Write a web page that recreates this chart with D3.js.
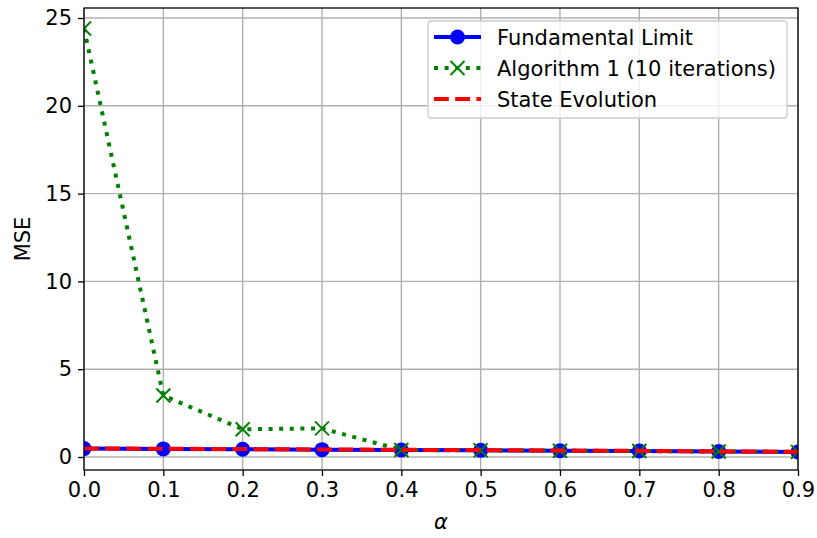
<!DOCTYPE html>
<html><head><meta charset="utf-8">
<script src="https://cdn.jsdelivr.net/npm/d3@7"></script>
<style>body{margin:0;background:#fff}svg{font-family:"DejaVu Sans",sans-serif}</style>
</head><body><svg id="c" width="817" height="538"></svg>
<script>
const alphas = [0.0,0.1,0.2,0.3,0.4,0.5,0.6,0.7,0.8,0.9];
const fundamentalLimit = [0.48,0.46,0.44,0.42,0.40,0.38,0.36,0.34,0.31,0.29];
const algorithm1 = [24.4,3.5,1.58,1.63,0.40,0.38,0.36,0.34,0.31,0.29];
const stateEvolution = [0.49,0.47,0.45,0.43,0.41,0.39,0.37,0.35,0.32,0.30];
const xTicks = [0,0.1,0.2,0.3,0.4,0.5,0.6,0.7,0.8,0.9];
const yTicks = [0,5,10,15,20,25];
const legendLabels = ["Fundamental Limit","Algorithm 1 (10 iterations)","State Evolution"];

const FS = 21;
const LW = 4;
const svg = d3.select("#c");
const L=84,R=798,T=8,B=470;
const x = d3.scaleLinear().domain([0,0.9]).range([L,R]);
const y = d3.scaleLinear().domain([-0.74,25.57]).range([B,T]);

const g = svg.append("g");
g.selectAll(".gx").data(xTicks).enter().append("line")
 .attr("x1",d=>x(d)).attr("x2",d=>x(d)).attr("y1",T).attr("y2",B)
 .attr("stroke","#b0b0b0").attr("stroke-width",1.4);
g.selectAll(".gy").data(yTicks).enter().append("line")
 .attr("x1",L).attr("x2",R).attr("y1",d=>y(d)).attr("y2",d=>y(d))
 .attr("stroke","#b0b0b0").attr("stroke-width",1.4);

svg.append("clipPath").attr("id","pc").append("rect")
 .attr("x",L).attr("y",T).attr("width",R-L).attr("height",B-T);
const plot = svg.append("g").attr("clip-path","url(#pc)");

const line = d3.line().x((d,i)=>x(alphas[i])).y(d=>y(d));
const DOT = `${LW},${LW*1.65}`;
const DASH = `${LW*3.7},${LW*1.6}`;
plot.append("path").datum(fundamentalLimit).attr("d",line).attr("fill","none")
 .attr("stroke","#0000ff").attr("stroke-width",LW);
plot.selectAll(".fm").data(fundamentalLimit).enter().append("circle")
 .attr("cx",(d,i)=>x(alphas[i])).attr("cy",d=>y(d)).attr("r",7.5).attr("fill","#0000ff");
plot.append("path").datum(algorithm1).attr("d",line).attr("fill","none")
 .attr("stroke","#008000").attr("stroke-width",LW).attr("stroke-dasharray",DOT);
const xs=7;
function xMark(sel,cx,cy){
  sel.append("path").attr("d",`M${cx-xs},${cy-xs}L${cx+xs},${cy+xs}M${cx-xs},${cy+xs}L${cx+xs},${cy-xs}`)
   .attr("stroke","#008000").attr("stroke-width",2).attr("fill","none");
}
algorithm1.forEach((d,i)=>xMark(plot,x(alphas[i]),y(d)));
plot.append("path").datum(stateEvolution).attr("d",line).attr("fill","none")
 .attr("stroke","#ff0000").attr("stroke-width",LW).attr("stroke-dasharray",DASH);

const xa = svg.append("g").attr("transform",`translate(0,${B})`)
 .call(d3.axisBottom(x).tickValues(xTicks).tickFormat(d3.format(".1f")).tickSize(6).tickPadding(6));
const ya = svg.append("g").attr("transform",`translate(${L},0)`)
 .call(d3.axisLeft(y).tickValues(yTicks).tickSize(6).tickPadding(6));
[xa,ya].forEach(a=>{a.select(".domain").remove();
 a.attr("font-size",FS).attr("font-family","DejaVu Sans");
 a.selectAll("text").attr("fill","#000");
 a.selectAll("line").attr("stroke","#000").attr("stroke-width",1.3);});
svg.append("rect").attr("x",L).attr("y",T).attr("width",R-L).attr("height",B-T)
 .attr("fill","none").attr("stroke","#000").attr("stroke-width",1.3);

svg.append("text").attr("x",(L+R)/2).attr("y",529).attr("text-anchor","middle")
 .attr("font-size",FS).attr("font-style","italic").text("α");
svg.append("text").attr("transform",`translate(30,${(T+B)/2}) rotate(-90)`).attr("text-anchor","middle")
 .attr("font-size",FS).text("MSE");

const lg = svg.append("g");
lg.append("rect").attr("x",428).attr("y",21).attr("width",359).attr("height",97).attr("rx",3)
 .attr("fill","#fff").attr("fill-opacity",0.8).attr("stroke","#cccccc").attr("stroke-width",1.3);
const ly=[37,68,99];
lg.append("line").attr("x1",434).attr("x2",481).attr("y1",ly[0]).attr("y2",ly[0]).attr("stroke","#0000ff").attr("stroke-width",LW);
lg.append("circle").attr("cx",457.5).attr("cy",ly[0]).attr("r",7.5).attr("fill","#0000ff");
lg.append("line").attr("x1",434).attr("x2",481).attr("y1",ly[1]).attr("y2",ly[1]).attr("stroke","#008000").attr("stroke-width",LW).attr("stroke-dasharray",DOT);
xMark(lg,457.5,ly[1]);
lg.append("line").attr("x1",434).attr("x2",481).attr("y1",ly[2]).attr("y2",ly[2]).attr("stroke","#ff0000").attr("stroke-width",LW).attr("stroke-dasharray",DASH);
legendLabels.forEach((t,i)=>lg.append("text").attr("x",497).attr("y",ly[i]+7.5).attr("font-size",FS).text(t));
</script></body></html>
